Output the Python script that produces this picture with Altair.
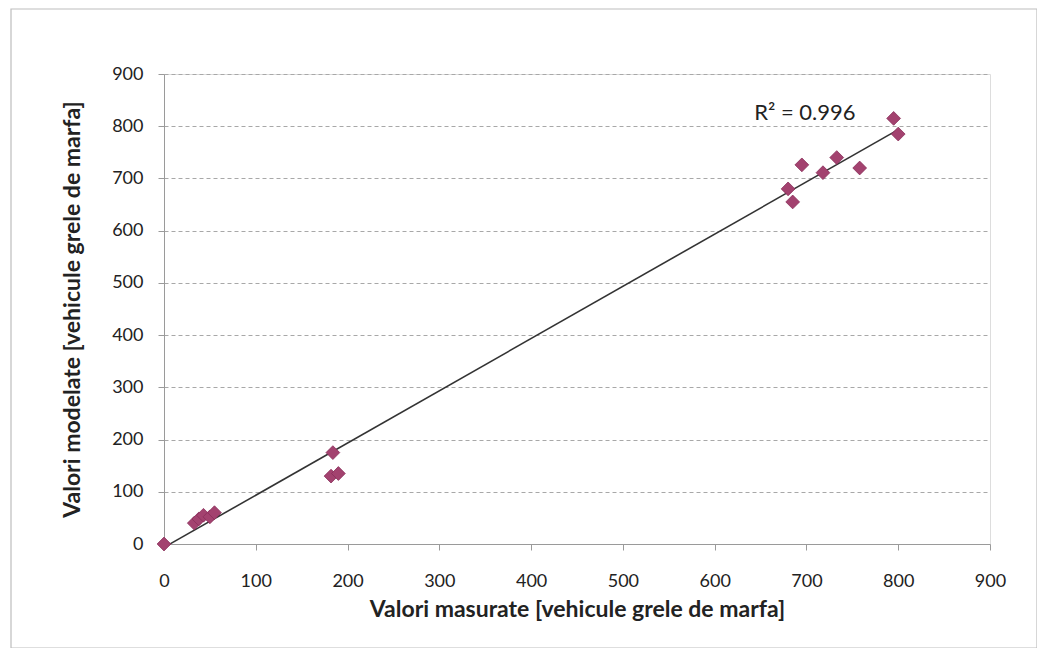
import altair as alt
import pandas as pd

measured = [0, 33, 38, 43, 50, 55, 184, 182, 190, 680, 685, 695, 718, 733, 758, 795, 800]
modeled = [0, 40, 48, 55, 52, 60, 175, 130, 135, 680, 655, 726, 711, 740, 720, 815, 785]

x_ticks = [0, 100, 200, 300, 400, 500, 600, 700, 800, 900]
y_ticks = [0, 100, 200, 300, 400, 500, 600, 700, 800, 900]

x_title = "Valori masurate [vehicule grele de marfa]"
y_title = "Valori modelate [vehicule grele de marfa]"
r2_text = "R² = 0.996"

df = pd.DataFrame({"x": measured, "y": modeled})

FONT = "Lato"

xs = alt.Scale(domain=[0, 900], nice=False, zero=False)
ys = alt.Scale(domain=[0, 900], nice=False, zero=False)

x_enc = alt.X("x:Q", scale=xs, title=x_title,
              axis=alt.Axis(values=x_ticks, grid=False, domainColor="#9a9a9a", tickColor="#9a9a9a",
                            tickSize=6, labelPadding=22, labelFontSize=18, labelColor="#222",
                            labelFlush=False, labelFont=FONT, titleFont=FONT, titleFontSize=23,
                            titleFontWeight="bold", titleColor="#222", titlePadding=8))
y_enc = alt.Y("y:Q", scale=ys, title=y_title,
              axis=alt.Axis(values=y_ticks, grid=True, gridDash=[4, 3], gridColor="#a8a8a8",
                            domainColor="#9a9a9a", tickColor="#9a9a9a", tickSize=6, labelPadding=15,
                            labelFlush=False, labelFontSize=18, labelColor="#222", labelFont=FONT,
                            titleFont=FONT, titleFontSize=23, titleFontWeight="bold", titleColor="#222",
                            titlePadding=27))

points = alt.Chart(df).mark_point(shape="diamond", filled=True, size=190, color="#a3426f",
                                  opacity=1, stroke="#8a2f5a", strokeWidth=0.8).encode(x=x_enc, y=y_enc)

trend = alt.Chart(df).transform_regression("x", "y").mark_line(color="#333333", strokeWidth=1.6).encode(
    x=alt.X("x:Q", scale=xs), y=alt.Y("y:Q", scale=ys))

lab = pd.DataFrame({"x": [643], "y": [826], "t": [r2_text]})
label = alt.Chart(lab).mark_text(align="left", baseline="middle", font=FONT, fontSize=22, color="#222").encode(
    x=alt.X("x:Q", scale=xs), y=alt.Y("y:Q", scale=ys), text="t:N")

border = alt.Chart(pd.DataFrame({"a": [0]})).mark_rect(fill=None, stroke="#bdbdbd", strokeWidth=1.2, clip=False).encode(
    x=alt.value(-153), x2=alt.value(873), y=alt.value(-65), y2=alt.value(574))

chart = alt.layer(border, trend, points, label).properties(
    width=826, height=470,
    autosize=alt.AutoSizeParams(type="none"),
    padding={"left": 156, "top": 66, "right": 47, "bottom": 104},
).configure_view(stroke=None).configure(background="white")

chart.save("out.html", embed_options={"renderer": "svg", "actions": False})
